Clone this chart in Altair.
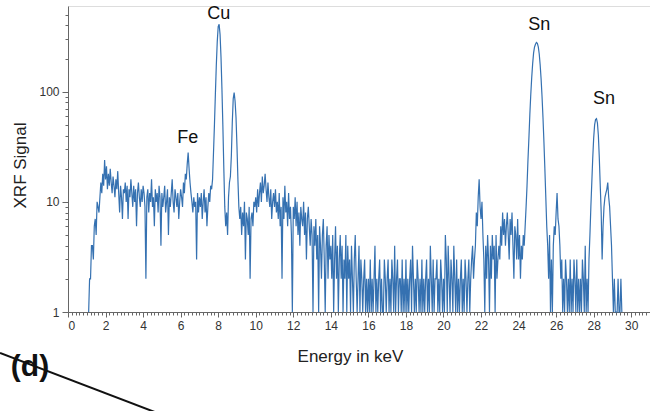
import altair as alt
import pandas as pd

# ---------------- data ----------------
start_kev = 1.10      # first channel with counts
step_kev = 0.05       # channel width

seg_01 = [1, 2, 2, 4, 4, 3, 6, 7, 5, 10, 9, 8, 11, 15, 12, 18, 14, 24]            # 1.10-1.95
seg_02 = [16, 21, 13, 18, 14, 20, 15, 12, 17, 14, 11, 16, 13, 19, 12, 8, 14, 11, 7, 13]
seg_03 = [12, 15, 10, 14, 7, 13, 11, 16, 12, 9, 14, 10, 13, 6, 12, 15, 11, 9, 13, 10]
seg_04 = [14, 12, 9, 2, 11, 13, 8, 12, 10, 16, 9, 11, 6, 13, 10, 12, 8, 14, 11, 4]
seg_05 = [12, 9, 11, 14, 8, 10, 13, 5, 11, 9, 12, 16, 10, 8, 13, 11, 9, 12, 7, 10]
seg_06 = [13, 11, 9, 15, 12, 18, 16, 22, 28, 20, 15, 12, 10, 8, 11, 9, 10, 3, 12, 8]
seg_07 = [11, 9, 12, 7, 10, 13, 8, 11, 6, 9, 12, 10, 14, 13, 16, 28, 50, 95, 175, 285]
seg_08 = [390, 410, 330, 205, 105, 48, 20, 9, 6, 8, 5, 11, 15, 17, 26, 52, 86, 98, 82, 58]
seg_09 = [32, 16, 9, 7, 9, 5, 8, 6, 10, 3, 8, 7, 5, 9, 2, 7, 8, 6, 10, 9]
seg_10 = [11, 8, 13, 9, 12, 15, 10, 17, 12, 14, 18, 13, 10, 15, 11, 9, 13, 7, 10, 12]
seg_11 = [9, 13, 8, 10, 7, 12, 6, 9, 2, 11, 7, 14, 8, 10, 6, 12, 7, 9, 5, 1]
seg_12 = [9, 7, 11, 6, 10, 5, 8, 4, 9, 7, 6, 10, 5, 8, 3, 7, 9, 6, 4, 7]
seg_13 = [5, 1, 6, 4, 7, 3, 5, 1, 6, 4, 2, 5, 7, 3, 1, 4, 6, 2, 5, 3]
seg_14 = [4, 2, 5, 1, 3, 6, 2, 4, 1, 3, 5, 2, 4, 1, 3, 2, 5, 1, 4, 2]
seg_15 = [3, 1, 4, 2, 1, 3, 5, 2, 1, 2, 4, 1, 3, 2, 1, 2, 3, 1, 2, 1]
seg_16 = [2, 1, 3, 1, 2, 1, 2, 4, 1, 2, 1, 2, 3, 1, 2, 1, 1, 3, 2, 1]
seg_17 = [2, 3, 1, 2, 1, 3, 2, 1, 4, 1, 2, 3, 1, 2, 2, 1, 3, 1, 2, 1]
seg_18 = [3, 1, 2, 1, 2, 3, 1, 4, 2, 1, 2, 1, 3, 2, 1, 2, 1, 3, 1, 2]
seg_19 = [1, 2, 3, 1, 2, 1, 4, 2, 1, 3, 1, 2, 2, 3, 1, 2, 1, 3, 2, 1]
seg_20 = [2, 1, 5, 3, 1, 4, 2, 1, 3, 2, 1, 4, 2, 1, 3, 1, 2, 1, 2, 3]
seg_21 = [1, 2, 1, 3, 2, 1, 2, 3, 1, 2, 3, 4, 2, 3, 4, 8, 6, 11, 16, 9]
seg_22 = [7, 10, 5, 3, 1, 4, 2, 5, 3, 1, 4, 2, 5, 3, 4, 1, 5, 2, 3, 4]
seg_23 = [3, 6, 4, 8, 5, 7, 4, 6, 8, 5, 3, 7, 5, 8, 4, 2, 6, 5, 3, 7]
seg_24 = [3, 5, 2, 4, 3, 5, 4, 6, 9, 14, 24, 38, 62, 95, 135, 180, 225, 255, 270, 280]
seg_25 = [275, 255, 220, 175, 130, 90, 58, 35, 20, 11, 6, 4, 2, 5, 1, 3, 1, 4, 6, 5]
seg_26 = [8, 12, 7, 6, 4, 2, 3, 1, 2, 1, 3, 2, 1, 2, 1, 3, 1, 2, 1, 3]
seg_27 = [2, 1, 3, 1, 2, 1, 2, 1, 3, 2, 1, 4, 1, 2, 1, 3, 5, 9, 15, 25]
seg_28 = [38, 50, 56, 57, 52, 40, 25, 14, 8, 3, 6, 9, 11, 12, 13, 15, 11, 9, 6, 4]
seg_29 = [2, 1, 2, 1, 1, 1, 2, 1, 1, 2, 1]                                        # 29.00-29.50

counts = (seg_01 + seg_02 + seg_03 + seg_04 + seg_05 + seg_06 + seg_07 + seg_08 +
          seg_09 + seg_10 + seg_11 + seg_12 + seg_13 + seg_14 + seg_15 + seg_16 +
          seg_17 + seg_18 + seg_19 + seg_20 + seg_21 + seg_22 + seg_23 + seg_24 +
          seg_25 + seg_26 + seg_27 + seg_28 + seg_29)
energy = [round(start_kev + i * step_kev, 2) for i in range(len(counts))]

peak_labels = ["Fe", "Cu", "Sn", "Sn"]
peak_label_kev = [6.38, 8.03, 25.1, 28.55]
peak_label_y = [38, 510, 405, 86]

x_major = list(range(0, 31, 2))
y_major = [1, 10, 100]
y_minor = [2, 3, 4, 5, 6, 7, 8, 9, 20, 30, 40, 50, 60, 70, 80, 90, 200, 300, 400, 500]

# ---------------- chart ----------------
BLUE = "#1f62a8"
FONT = "Liberation Sans"
AX = "#666666"

df = pd.DataFrame({"energy": energy, "counts": counts})
lab = pd.DataFrame({"label": peak_labels, "energy": peak_label_kev, "counts": peak_label_y})

xscale = alt.Scale(domain=[0, 31], nice=False, zero=False)
yscale = alt.Scale(type="log", domain=[1, 600], nice=False)

x_minor = [round(i * 0.2, 1) for i in range(0, 156) if (i % 10) != 0]

line = alt.Chart(df).mark_line(color=BLUE, strokeWidth=1.2, opacity=0.9).encode(
    x=alt.X("energy:Q", scale=xscale,
            axis=alt.Axis(values=x_major, format="d", orient="bottom",
                          title="Energy in keV", titleFont=FONT, titleFontSize=17,
                          titleFontWeight="normal", titleColor="#222",
                          titleX=282, titleY=44, titleBaseline="middle", titleAlign="center",
                          labelFont=FONT, labelFontSize=12, labelColor="#333",
                          labelPadding=3, tickSize=5, tickColor=AX, domainColor=AX,
                          grid=False)),
    y=alt.Y("counts:Q", scale=yscale,
            axis=alt.Axis(values=y_major, format="d", orient="left",
                          title="XRF Signal", titleFont=FONT, titleFontSize=17,
                          titleFontWeight="normal", titleColor="#222",
                          titleX=-48, titleY=159, titleAngle=-90,
                          titleBaseline="middle", titleAlign="center",
                          labelFont=FONT, labelFontSize=12, labelColor="#333",
                          labelPadding=3, tickSize=6, tickColor=AX, domainColor=AX,
                          grid=False)),
)

minor = alt.Chart(df).mark_point(opacity=0).encode(
    x=alt.X("energy:Q", scale=xscale,
            axis=alt.Axis(values=x_minor, orient="bottom", labels=False, title=None,
                          tickSize=3, tickColor=AX, domain=False, grid=False)),
    y=alt.Y("counts:Q", scale=yscale,
            axis=alt.Axis(values=y_minor, orient="left", labels=False, title=None,
                          tickSize=3, tickColor=AX, domain=False, grid=False)),
)

labels = alt.Chart(lab).mark_text(font=FONT, fontSize=18, color="#111",
                                  baseline="middle", align="center").encode(
    x=alt.X("energy:Q", scale=xscale, axis=None),
    y=alt.Y("counts:Q", scale=yscale, axis=None),
    text="label:N",
)

panel_tag = alt.Chart(lab).mark_text(text="(d)", font=FONT, fontSize=30, fontWeight="bold",
                                     color="#111", align="center", baseline="middle").encode(
    x=alt.value(-38), y=alt.value(361)
).transform_filter("datum.label == 'Fe'")

diag = alt.Chart(lab).mark_rule(color="#111", strokeWidth=2).encode(
    x=alt.value(-68), y=alt.value(347), x2=alt.value(92), y2=alt.value(408)
).transform_filter("datum.label == 'Fe'")

chart = alt.layer(line, minor, labels, diag, panel_tag).resolve_axis(
    x="independent", y="independent"
).properties(
    width=582, height=306,
    autosize=alt.AutoSizeParams(type="none"),
    padding={"left": 68, "top": 6, "right": 0, "bottom": 99},
).configure_view(stroke=None).configure(background="white")

chart.save("out.html", embed_options={"renderer": "svg", "actions": False})
